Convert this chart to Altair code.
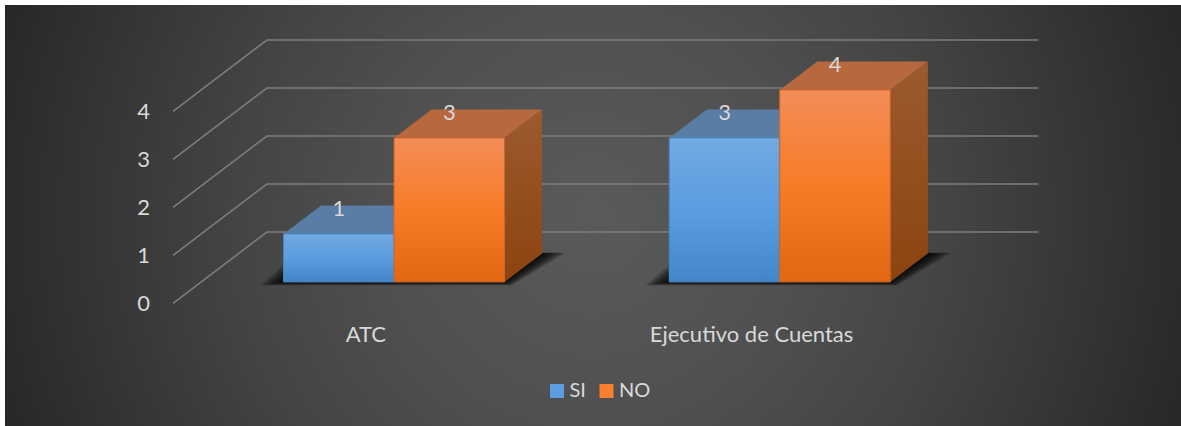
import altair as alt
import pandas as pd

# Chart values
categories = ["ATC", "Ejecutivo de Cuentas"]
series = ["SI", "NO"]
si_values = [1, 3]
no_values = [3, 4]
value_ticks = [0, 1, 2, 3, 4]

W, H = 1181, 426
FONT = "Lato"
TEXT = "#d9d9d9"

# Oblique projection of the 3D box: screen position from (x, value, depth)
PX_PER_UNIT = 48.0
FLOOR_Y = 303.3
DEPTH_X = 94.0
DEPTH_Y = 71.3 / PX_PER_UNIT  # value units of lift at full depth
AXIS_LEFT = 173.0
CAT_STEP = 385.7
BAR_W = 110.5
BAR_D0, BAR_D1 = 0.3, 0.7


def px(x, d):
    return x + d * DEPTH_X


def py(v, d):
    return v + d * DEPTH_Y


x_scale = alt.Scale(domain=[0, W], range=[0, W], nice=False, zero=False)
y_scale = alt.Scale(
    domain=[(FLOOR_Y - H) / PX_PER_UNIT, FLOOR_Y / PX_PER_UNIT],
    range=[H, 0], nice=False, zero=False,
)
X = alt.X("x:Q", scale=x_scale, axis=None)
Y = alt.Y("y:Q", scale=y_scale, axis=None)

# Box geometry per bar
fronts, tops, sides, labels, floors = [], [], [], [], []
for ci, cat in enumerate(categories):
    center = AXIS_LEFT + CAT_STEP * (ci + 0.5)
    for si, (name, vals) in enumerate(zip(series, (si_values, no_values))):
        v = vals[ci]
        x0 = center + (si - 1) * BAR_W
        x1 = x0 + BAR_W
        key = f"{cat}-{name}"
        front_x0, front_x1 = px(x0, BAR_D0), px(x1, BAR_D0)
        back_x0, back_x1 = px(x0, BAR_D1), px(x1, BAR_D1)
        fronts.append(dict(series=name, x=front_x0, x2=front_x1,
                           y=py(v, BAR_D0), y2=py(0, BAR_D0)))
        tops += [
            dict(series=name, key=key, x=front_x0, x2=front_x1, y=py(v, BAR_D0)),
            dict(series=name, key=key, x=back_x0, x2=back_x1, y=py(v, BAR_D1)),
        ]
        sides += [
            dict(series=name, key=key, x=front_x1, y=py(v, BAR_D0), y2=py(0, BAR_D0)),
            dict(series=name, key=key, x=back_x1, y=py(v, BAR_D1), y2=py(0, BAR_D1)),
        ]
        labels.append(dict(x=(front_x0 + front_x1) / 2, y=py(v, BAR_D0), text=str(v)))
    # Soft floor shadow: nested footprints that build up towards the box
    fx0 = center - BAR_W
    fx1 = center + BAR_W
    for level, grow in enumerate([24, 22, 20, 18, 16, 14, 12, 10, 8, 6, 4, 2]):
        lift = grow * 0.15 / PX_PER_UNIT
        key = f"{cat}-{level}"
        floors += [
            dict(key=key, x=px(fx0, BAR_D0) - grow, x2=px(fx1, BAR_D0) + grow * 0.3,
                 y=py(0, BAR_D0) - lift),
            dict(key=key, x=px(fx0, BAR_D1) - grow, x2=px(fx1, BAR_D1) + grow * 1.0,
                 y=py(0, BAR_D1) + lift * 0.2),
        ]

fronts = pd.DataFrame(fronts)
tops = pd.DataFrame(tops)
sides = pd.DataFrame(sides)
labels = pd.DataFrame(labels)
floors = pd.DataFrame(floors)

# Gridlines: diagonal along the side wall, then straight along the back wall
grid = []
for t in value_ticks:
    grid += [
        dict(tick=t, order=0, x=px(AXIS_LEFT, 0), y=py(t, 0)),
        dict(tick=t, order=1, x=px(AXIS_LEFT, 1), y=py(t, 1)),
        dict(tick=t, order=2, x=px(AXIS_LEFT + 2 * CAT_STEP, 1), y=py(t, 1)),
    ]
grid = pd.DataFrame(grid)

cat_labels = pd.DataFrame(
    [dict(x=AXIS_LEFT + CAT_STEP * (i + 0.5), y=0, text=c) for i, c in enumerate(categories)]
)
tick_labels = pd.DataFrame({"y": value_ticks, "text": [str(t) for t in value_ticks]})


def vgrad(*stops):
    return alt.Gradient(
        gradient="linear", x1=0, x2=0, y1=0, y2=1,
        stops=[alt.GradientStop(offset=o, color=c) for o, c in stops],
    )


# Circular glow: a square rectangle wider than the view, clipped to the view
backdrop = alt.Chart(pd.DataFrame({"a": [0]})).mark_rect(
    clip=True,
    fill=alt.Gradient(
        gradient="radial", x1=0.5, y1=0.5, x2=0.5, y2=0.5, r1=0, r2=0.54,
        stops=[
            alt.GradientStop(offset=0, color="#5a5a5a"),
            alt.GradientStop(offset=0.32, color="#505050"),
            alt.GradientStop(offset=0.56, color="#444444"),
            alt.GradientStop(offset=0.74, color="#383838"),
            alt.GradientStop(offset=1, color="#262626"),
        ],
    ),
).encode(x=alt.value(5), x2=alt.value(W), y=alt.value(-373), y2=alt.value(803))

top_margin = alt.Chart(pd.DataFrame({"a": [0]})).mark_rect(fill="#ffffff").encode(
    x=alt.value(0), x2=alt.value(W), y=alt.value(0), y2=alt.value(5)
)

gridlines = alt.Chart(grid).mark_line(color="#7d7d7d", strokeWidth=1.6).encode(
    x=X, y=Y, detail="tick:N", order="order:Q"
)

# Value labels sit left of the floor's front edge, at the height of each tick
tick_text = alt.Chart(tick_labels).mark_text(
    font=FONT, fontSize=22, color=TEXT, align="right", baseline="middle", dy=1
).encode(x=alt.value(150), y=Y, text="text:N")

shadow = alt.Chart(floors).mark_area(orient="horizontal", color="#000000", opacity=0.12).encode(
    y=Y, x=X, x2="x2:Q", detail="key:N"
)


def top_face(name, fill):
    return alt.Chart(tops[tops.series == name]).mark_area(
        orient="horizontal", color=fill
    ).encode(y=Y, x=X, x2="x2:Q", detail="key:N")


def side_face(name, gradient):
    return alt.Chart(sides[sides.series == name]).mark_area(color=gradient).encode(
        x=X, y=Y, y2="y2:Q", detail="key:N"
    )


solid_fronts = alt.Chart(fronts).mark_rect().encode(
    x=X, x2="x2:Q", y=Y, y2="y2:Q",
    color=alt.Color(
        "series:N",
        scale=alt.Scale(domain=series, range=["#5b9de0", "#f77f2e"]),
        legend=alt.Legend(
            orient="none", legendX=547, legendY=381, direction="horizontal",
            title=None, symbolType="square", symbolSize=196, symbolStrokeWidth=0,
            symbolOpacity=1, labelFont=FONT, labelFontSize=20, labelColor=TEXT,
            labelOffset=2.5, columnPadding=10.5, padding=0,
        ),
    ),
)


def front_face(name, gradient, edge):
    return alt.Chart(fronts[fronts.series == name]).mark_rect(
        fill=gradient, stroke=edge, strokeWidth=1
    ).encode(x=X, x2="x2:Q", y=Y, y2="y2:Q")


value_text = alt.Chart(labels).mark_text(
    font=FONT, fontSize=22, color=TEXT, dy=-25, baseline="middle"
).encode(x=X, y=Y, text="text:N")

category_text = alt.Chart(cat_labels).mark_text(
    font=FONT, fontSize=22, color=TEXT, dy=32, baseline="middle"
).encode(x=X, y=Y, text="text:N")

chart = alt.layer(
    backdrop,
    top_margin,
    gridlines,
    tick_text,
    shadow,
    top_face("SI", "#5a7da6"),
    side_face("SI", vgrad((0, "#4f7aa6"), (1, "#2f5f92"))),
    top_face("NO", "#b7683f"),
    side_face("NO", vgrad((0, "#9c5a2e"), (1, "#8c440f"))),
    solid_fronts,
    front_face("SI", vgrad((0, "#72a9e2"), (0.5, "#5a9de0"), (1, "#4286c9")), "#4a86c0"),
    front_face("NO", vgrad((0, "#f48d59"), (0.5, "#f77c27"), (1, "#e26712")), "#c9662a"),
    value_text,
    category_text,
).properties(
    width=W, height=H, padding=0, autosize=alt.AutoSizeParams(type="none"),
    background="#ffffff",
).configure_view(stroke=None)

chart.save("out.html", embed_options={"renderer": "svg", "actions": False})
